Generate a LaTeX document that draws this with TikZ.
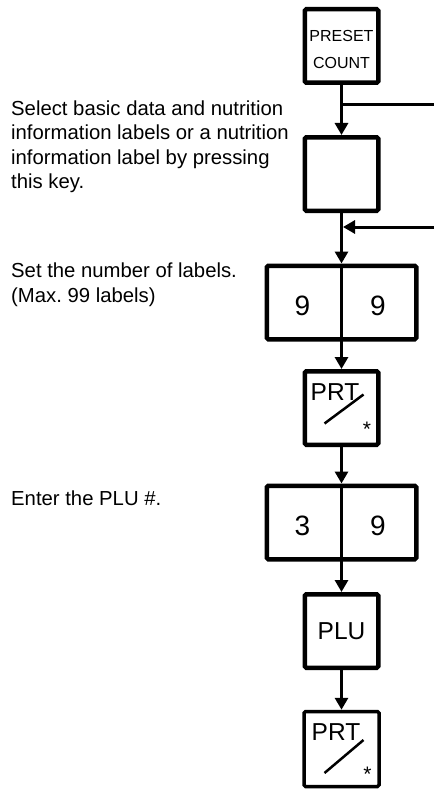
\documentclass[tikz,border=0pt]{standalone}
\usepackage{fontspec}
\setmainfont{Liberation Sans}
\usetikzlibrary{arrows.meta}
\frenchspacing
\begin{document}
\begin{tikzpicture}[x=1pt,y=-1pt,
  keybox/.style={draw, line width=4.5pt, rounded corners=1.5pt, minimum width=73.5pt, minimum height=73.5pt, inner sep=0pt},
  thinbox/.style={keybox, line width=3.5pt, minimum width=75pt, minimum height=75pt},
  dblbox/.style={keybox, minimum width=149.5pt},
  conn/.style={line width=3pt},
  arr/.style={conn, -{Triangle[length=12pt,width=13pt]}},
  desc/.style={anchor=base west, inner sep=0pt, font=\fontsize{20.3}{24.5}\selectfont, align=left},
  digit/.style={font=\fontsize{28}{30}\selectfont, inner sep=0pt},
  keytxt/.style={font=\fontsize{24.5}{26}\selectfont, inner sep=0pt},
  prttxt/.style={keytxt, anchor=base west},
  star/.style={font=\fontsize{21}{21}\selectfont, inner sep=0pt},
  slash/.style={line width=2.5pt}
]
\useasboundingbox (0,0) rectangle (434,789);

% description texts (base anchor = baseline of the last line)
\node[desc] (t1) at (11,188.5) {Select basic data and nutrition\\information labels or a nutrition\\information label by pressing\\this key.};
\node[desc] (t2) at (11,302) {Set the number of labels.\\(Max. 99 labels)};
\node[desc] (t3) at (11,505) {Enter the PLU \#.};

% keys
\node[keybox] (preset) at (341.5,46) {};
\node[font=\fontsize{16}{26.5}\selectfont, align=center, inner sep=0pt] (presettxt) at (341.5,49.3) {PRESET\\COUNT};

\node[keybox] (blank) at (341.5,174) {};

\node[dblbox] (nn) at (341.5,302.5) {};
\node[digit] (n1) at (302.5,306) {9};
\node[digit] (n2) at (378,306) {9};

\node[keybox] (prt1) at (341.5,408) {};
\node[prttxt] (prt1t) at ([shift={(-31,-8)}]prt1.center) {PRT};
\draw[slash] ([shift={(-17,15.5)}]prt1.center) -- ([shift={(22,-13.5)}]prt1.center);
\node[star] (prt1s) at ([shift={(25.5,21)}]prt1.center) {*};

\node[dblbox] (d39) at (341.5,522.5) {};
\node[digit] (d3) at (302.5,526) {3};
\node[digit] (d9) at (378,526) {9};

\node[keybox] (plu) at (341.5,631) {};
\node[keytxt] (plut) at (plu.center) {PLU};

\node[thinbox] (prt2) at (341.5,749) {};
\node[prttxt] (prt2t) at ([shift={(-30,-9)}]prt2.center) {PRT};
\draw[slash] ([shift={(-17,24)}]prt2.center) -- ([shift={(22,-9)}]prt2.center);
\node[star] (prt2s) at ([shift={(26,25)}]prt2.center) {*};

% connectors
\coordinate (j1) at (341.5,105);
\coordinate (r1) at (434,105);
\coordinate (j2) at (343,227);
\coordinate (r2) at (434,227);
\draw[arr] (preset.south) -- (blank.north);
\draw[conn] (j1) -- (r1);
\draw[arr] (r2) -- (j2);
\draw[arr] (blank.south) -- (nn.north);
\draw[conn] (nn.north) -- (nn.south);
\draw[arr] (nn.south) -- (prt1.north);
\draw[arr] (prt1.south) -- (d39.north);
\draw[conn] (d39.north) -- (d39.south);
\draw[arr] (d39.south) -- (plu.north);
\draw[arr] (plu.south) -- (prt2.north);
\end{tikzpicture}
\end{document}
